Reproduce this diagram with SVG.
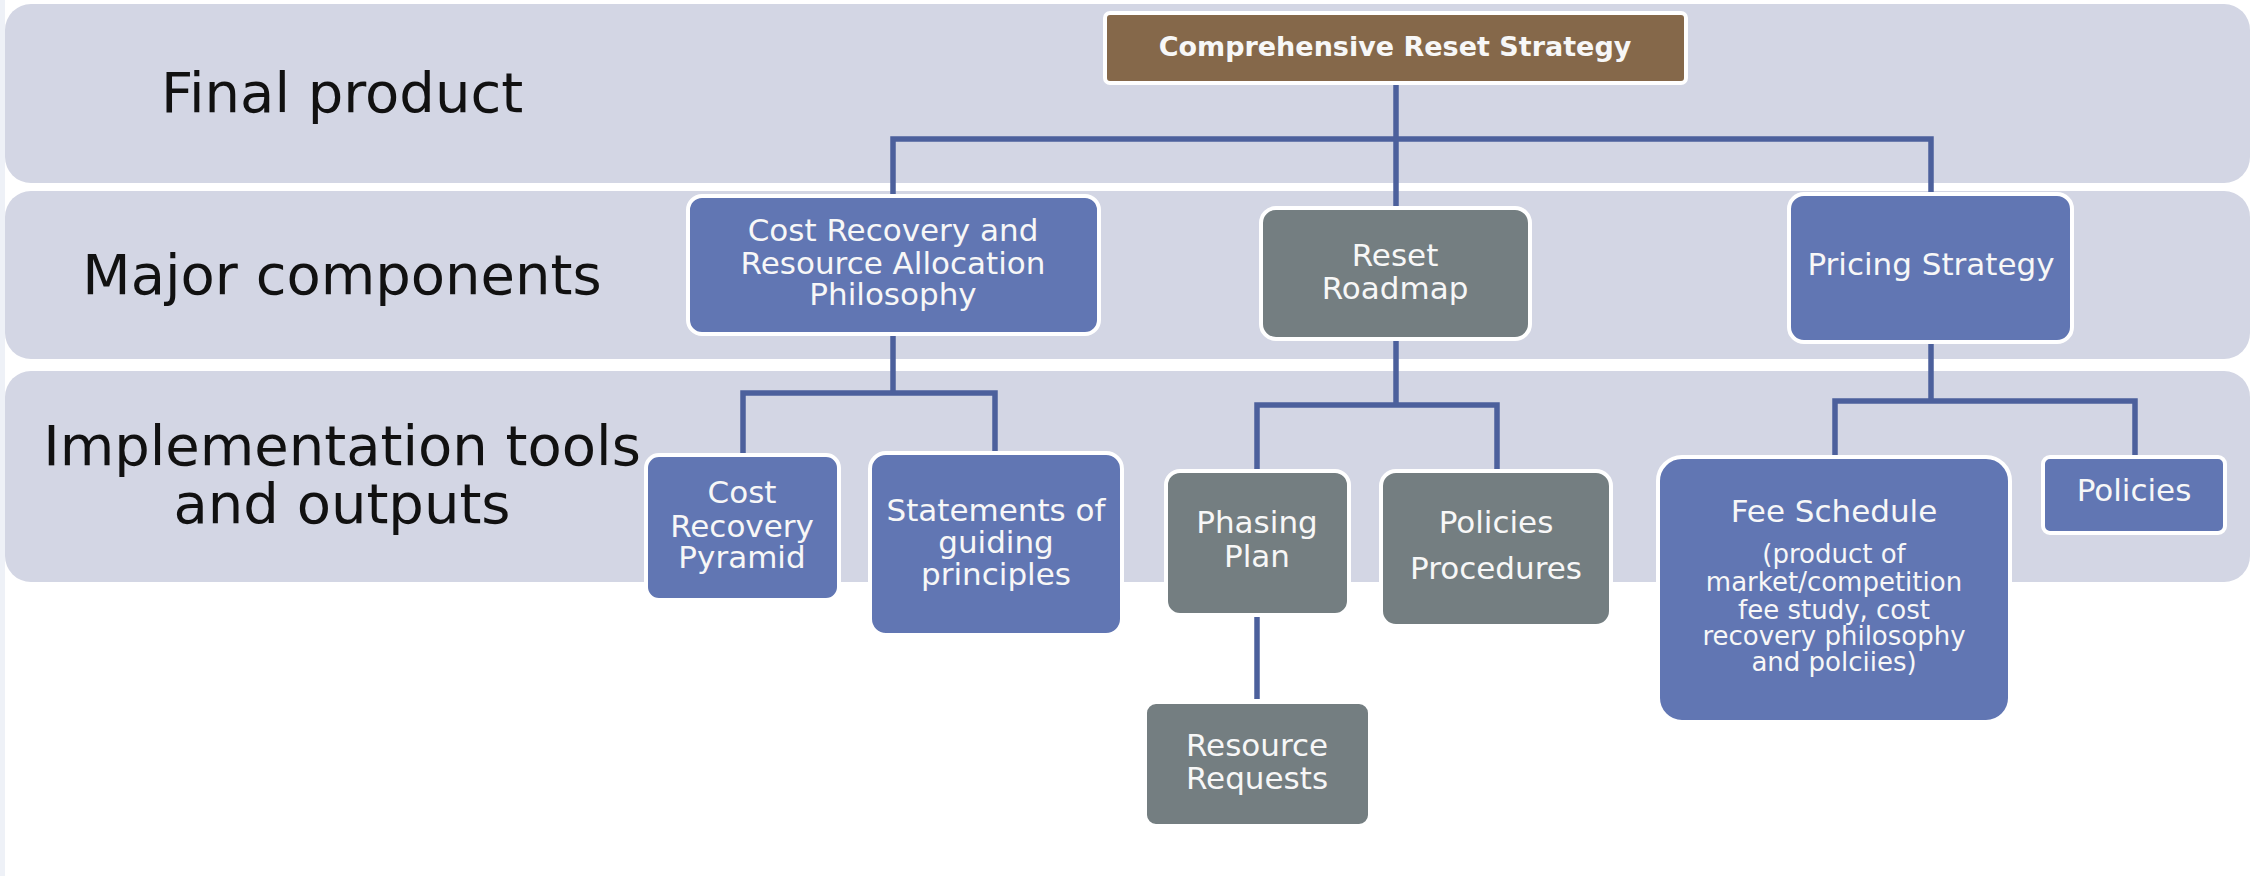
<svg xmlns="http://www.w3.org/2000/svg" width="2254" height="876" viewBox="0 0 2254 876">
  <style>
    .band { fill: #d3d6e4; }
    .lane { font-family: "DejaVu Sans", "Liberation Sans", sans-serif; font-size: 56px; fill: #111111; text-anchor: middle; }
    .box { stroke: #ffffff; stroke-width: 4; }
    .blue { fill: #6176b3; }
    .gray { fill: #747e81; }
    .brown { fill: #85684a; }
    .t { font-family: "DejaVu Sans", "Liberation Sans", sans-serif; font-size: 31px; fill: #f7f7f7; text-anchor: middle; }
    .small { font-size: 26px; }
    .title { font-weight: bold; font-size: 27px; }
    .wire { fill: none; stroke: #4c609c; stroke-width: 5.5; stroke-linejoin: miter; }
  </style>

  <rect x="0" y="0" width="2254" height="876" fill="#ffffff"/>
  <rect x="0" y="0" width="5" height="876" fill="#eef1f7"/>

  <!-- swimlane bands -->
  <g id="bands">
    <rect class="band" x="5" y="4" width="2245" height="179" rx="26"/>
    <rect class="band" x="5" y="191" width="2245" height="168" rx="26"/>
    <rect class="band" x="5" y="371" width="2245" height="211" rx="26"/>
  </g>

  <g id="lane-labels">
    <text class="lane" x="342" y="112">Final product</text>
    <text class="lane" x="342" y="294">Major components</text>
    <text class="lane" x="342" y="465">Implementation tools</text>
    <text class="lane" x="342" y="523">and outputs</text>
  </g>

  <!-- tree connectors -->
  <g id="connectors">
    <path class="wire" d="M1396 83 V208"/>
    <path class="wire" d="M893 196 V139 H1931 V194"/>
    <path class="wire" d="M893 334 V393"/>
    <path class="wire" d="M743 455 V393 H995 V453"/>
    <path class="wire" d="M1396 339 V405"/>
    <path class="wire" d="M1257 471 V405 H1497 V471"/>
    <path class="wire" d="M1257 616 V699"/>
    <path class="wire" d="M1931 341 V401"/>
    <path class="wire" d="M1835 457 V401 H2135 V457"/>
  </g>

  <g id="comprehensive-reset-strategy">
    <rect class="box brown" x="1105" y="13" width="581" height="70" rx="5"/>
    <text class="t title" x="1395" y="56">Comprehensive Reset Strategy</text>
  </g>

  <g id="cost-recovery-philosophy">
    <rect class="box blue" x="688" y="196" width="411" height="138" rx="14"/>
    <text class="t" x="893" y="241">Cost Recovery and</text>
    <text class="t" x="893" y="274">Resource  Allocation</text>
    <text class="t" x="893" y="305">Philosophy</text>
  </g>

  <g id="reset-roadmap">
    <rect class="box gray" x="1261" y="208" width="269" height="131" rx="15"/>
    <text class="t" x="1395" y="266">Reset</text>
    <text class="t" x="1395" y="299">Roadmap</text>
  </g>

  <g id="pricing-strategy">
    <rect class="box blue" x="1789" y="194" width="283" height="148" rx="15"/>
    <text class="t" x="1931" y="275">Pricing Strategy</text>
  </g>

  <g id="cost-recovery-pyramid">
    <rect class="box blue" x="646" y="455" width="193" height="145" rx="13"/>
    <text class="t" x="742" y="503">Cost</text>
    <text class="t" x="742" y="537">Recovery</text>
    <text class="t" x="742" y="568">Pyramid</text>
  </g>

  <g id="guiding-principles">
    <rect class="box blue" x="870" y="453" width="252" height="182" rx="16"/>
    <text class="t" x="996" y="521">Statements of</text>
    <text class="t" x="996" y="553">guiding</text>
    <text class="t" x="996" y="585">principles</text>
  </g>

  <g id="phasing-plan">
    <rect class="box gray" x="1166" y="471" width="183" height="144" rx="14"/>
    <text class="t" x="1257" y="533">Phasing</text>
    <text class="t" x="1257" y="567">Plan</text>
  </g>

  <g id="policies-procedures">
    <rect class="box gray" x="1381" y="471" width="230" height="155" rx="15"/>
    <text class="t" x="1496" y="533">Policies</text>
    <text class="t" x="1496" y="579">Procedures</text>
  </g>

  <g id="resource-requests">
    <rect class="box gray" x="1145" y="702" width="225" height="124" rx="11"/>
    <text class="t" x="1257" y="756">Resource</text>
    <text class="t" x="1257" y="789">Requests</text>
  </g>

  <g id="fee-schedule">
    <rect class="box blue" x="1658" y="457" width="352" height="265" rx="24"/>
    <text class="t" x="1834" y="522">Fee Schedule</text>
    <text class="t small" x="1834" y="563">(product of</text>
    <text class="t small" x="1834" y="591">market/competition</text>
    <text class="t small" x="1834" y="619">fee study, cost</text>
    <text class="t small" x="1834" y="645">recovery philosophy</text>
    <text class="t small" x="1834" y="671">and polciies)</text>
  </g>

  <g id="pricing-policies">
    <rect class="box blue" x="2043" y="457" width="182" height="76" rx="7"/>
    <text class="t" x="2134" y="501">Policies</text>
  </g>
</svg>
